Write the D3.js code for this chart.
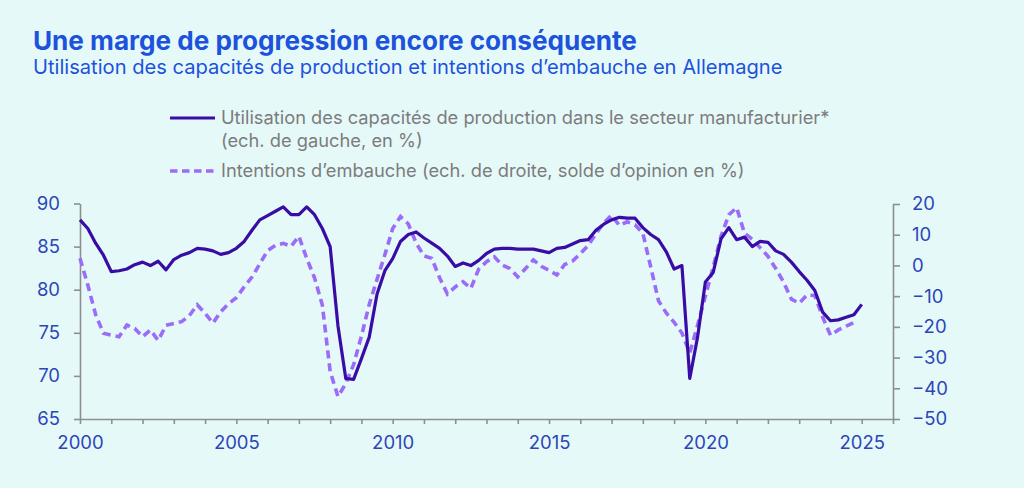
<!DOCTYPE html>
<html>
<head>
<meta charset="utf-8">
<script src="https://cdn.jsdelivr.net/npm/d3@7"></script>
<style>
body { margin: 0; background: #e6f9f9; }
svg { display: block; font-family: Inter, "Noto Sans", sans-serif; }
</style>
</head>
<body>
<div id="chart"></div>
<script>
// quarterly series, 2000Q1 onwards
var utilisation = [
  88.1, 87.1, 85.4, 84.0,  82.1, 82.2, 82.4, 82.9,  83.2, 82.8, 83.3, 82.3,
  83.5, 84.0, 84.3, 84.8,  84.7, 84.5, 84.1, 84.3,  84.8, 85.6, 86.9, 88.1,
  88.6, 89.1, 89.6, 88.7,  88.7, 89.6, 88.7, 87.1,  85.0, 75.8, 69.7, 69.6,
  72.0, 74.5, 79.5, 82.2,  83.6, 85.6, 86.4, 86.7,  86.0, 85.4, 84.8, 83.9,
  82.7, 83.1, 82.8, 83.4,  84.2, 84.7, 84.8, 84.8,  84.7, 84.7, 84.7, 84.5,
  84.3, 84.8, 84.9, 85.3,  85.7, 85.8, 86.9, 87.6,  88.1, 88.4, 88.3, 88.3,
  87.2, 86.4, 85.8, 84.4,  82.4, 82.8, 69.7, 74.5,  80.9, 82.0, 85.9, 87.2,
  85.8, 86.1, 85.0, 85.6,  85.5, 84.5, 84.1, 83.2,  82.1, 81.1, 79.9, 77.4,
  76.4, 76.5, 76.8, 77.1,  78.3
]
var embauche = [
  2.3, -6.4, -16.0, -22.1,  -22.7, -23.2, -19.4, -20.5,  -23.2, -21.0, -24.4, -19.5,
  -18.9, -18.3, -16.3, -12.8,  -15.6, -18.8, -15.1, -12.5,  -10.5, -7.0, -3.8, 0.5,
  4.8, 6.5, 7.2, 6.2,  9.5, 2.3, -4.0, -12.9,  -34.5, -42.7, -38.4, -32.3,
  -23.0, -12.7, -4.5, 3.5,  12.0, 15.9, 13.5, 7.3,  3.1, 2.3, -4.0, -9.3,
  -7.0, -5.3, -7.5, -1.2,  1.2, 2.8, 0.1, -1.0,  -3.7, -1.0, 1.8, -0.3,
  -1.6, -3.1, 0.3, 1.4,  3.8, 6.5, 10.3, 13.8,  16.4, 13.0, 14.2, 13.2,
  10.5, -0.4, -11.5, -15.5,  -18.5, -22.0, -28.5, -19.5,  -10.0, -0.5, 9.5, 16.5,
  18.8, 10.5, 8.5, 5.8,  3.0, -1.0, -5.4, -11.0,  -12.3, -9.6, -9.8, -16.8,
  -22.7, -21.0, -19.8, -18.6
]
var yearTicks = d3.range(2000, 2027)
var leftTicks = [65, 70, 75, 80, 85, 90]
var rightTicks = [-50, -40, -30, -20, -10, 0, 10, 20]

var legendLabels = [
  'Utilisation des capacités de production dans le secteur manufacturier*',
  '(ech. de gauche, en %)',
  'Intentions d\u2019embauche (ech. de droite, solde d\u2019opinion en %)'
]

var width = 1024, height = 488
var margin = {left: 80, right: 131, top: 203.5, bottom: 69}

var blue = '#2c46b8', grey = '#8e8e8e'

var svg = d3.select('#chart').append('svg')
  .attr('width', width)
  .attr('height', height)

svg.append('rect').attr('width', width).attr('height', height).attr('fill', '#e6f9f9')

// fit a text to a target width by adjusting its font size
function fit(sel, w) {
  var size = parseFloat(sel.attr('font-size'))
  var len = sel.node().getComputedTextLength()
  sel.attr('font-size', (size * w / len).toFixed(2) + 'px')
}

// titles
var title = svg.append('text')
  .attr('x', 33).attr('y', 50)
  .attr('font-size', '24px').attr('font-weight', 700)
  .attr('fill', '#1c52dc')
  .text('Une marge de progression encore conséquente')
fit(title, 604)

var subtitle = svg.append('text')
  .attr('x', 33).attr('y', 74)
  .attr('font-size', '17px')
  .attr('fill', '#1c52dc')
  .text('Utilisation des capacités de production et intentions d\u2019embauche en Allemagne')
fit(subtitle, 750)

// scales
var x = d3.scaleLinear().domain([2000, 2026]).range([margin.left, width - margin.right])
var yLeft = d3.scaleLinear().domain([65, 90]).range([height - margin.bottom, margin.top])
var yRight = d3.scaleLinear().domain([-50, 20]).range([height - margin.bottom, 204])

var quarters = utilisation.map(function(d, i) { return 2000 + i / 4 })

// axes
var xAxis = d3.axisBottom(x)
  .tickValues(yearTicks)
  .tickSize(5).tickSizeOuter(0).tickPadding(12)
  .tickFormat(function(d) { return d % 5 === 0 ? d : '' })

var gx = svg.append('g')
  .attr('transform', 'translate(0,' + (height - margin.bottom) + ')')
  .call(xAxis)

var gl = svg.append('g')
  .attr('transform', 'translate(' + margin.left + ',0)')
  .call(d3.axisLeft(yLeft).tickValues(leftTicks).tickSize(6).tickSizeOuter(0).tickPadding(14))

var gr = svg.append('g')
  .attr('transform', 'translate(' + (width - margin.right) + ',0)')
  .call(d3.axisRight(yRight).tickValues(rightTicks).tickSize(7).tickSizeOuter(0).tickPadding(12))

;[gx, gl, gr].forEach(function(g) {
  g.select('.domain').attr('stroke', grey).attr('stroke-width', 1.6)
  g.selectAll('.tick line').attr('stroke', grey).attr('stroke-width', 1.6)
  g.selectAll('.tick text')
    .attr('fill', blue)
    .attr('font-size', '18.5px')
    .attr('font-family', 'Inter, sans-serif')
})

// lines
var lineLeft = d3.line()
  .x(function(d, i) { return x(quarters[i]) })
  .y(function(d) { return yLeft(d) })

var lineRight = d3.line()
  .x(function(d, i) { return x(quarters[i]) })
  .y(function(d) { return yRight(d) })

svg.append('path')
  .datum(embauche)
  .attr('d', lineRight)
  .attr('fill', 'none')
  .attr('stroke', '#9b6cf8')
  .attr('stroke-width', 3.6)
  .attr('stroke-dasharray', '8,5')

svg.append('path')
  .datum(utilisation)
  .attr('d', lineLeft)
  .attr('fill', 'none')
  .attr('stroke', '#3a0ca6')
  .attr('stroke-width', 3.2)
  .attr('stroke-linejoin', 'round')

// legend
var legend = svg.append('g')

legend.append('line')
  .attr('x1', 170).attr('x2', 215).attr('y1', 118).attr('y2', 118)
  .attr('stroke', '#3a0ca6').attr('stroke-width', 3.2)

legend.append('line')
  .attr('x1', 170).attr('x2', 215).attr('y1', 171).attr('y2', 171)
  .attr('stroke', '#9b6cf8').attr('stroke-width', 3.6)
  .attr('stroke-dasharray', '7.5,4.5')

var leg1 = legend.append('text')
  .attr('x', 221).attr('y', 123.5)
  .attr('font-size', '16px').attr('fill', '#7c7c7c')
  .text(legendLabels[0])
fit(leg1, 609)
var legSize = leg1.attr('font-size')

legend.append('text')
  .attr('x', 221).attr('y', 146.5)
  .attr('font-size', legSize).attr('fill', '#7c7c7c')
  .text(legendLabels[1])

legend.append('text')
  .attr('x', 221).attr('y', 176.5)
  .attr('font-size', legSize).attr('fill', '#7c7c7c')
  .text(legendLabels[2])
</script>
</body>
</html>
